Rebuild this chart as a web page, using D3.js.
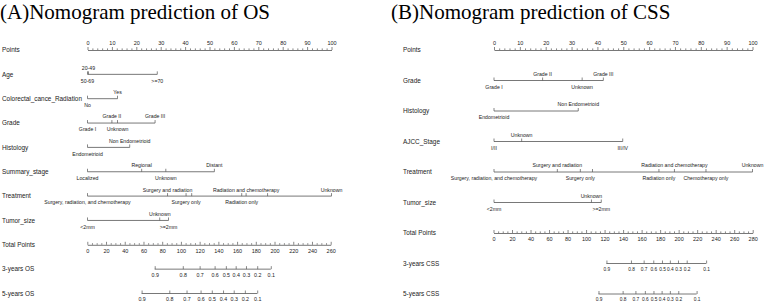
<!DOCTYPE html>
<html><head><meta charset="utf-8">
<script src="https://cdn.jsdelivr.net/npm/d3@7"></script>
<style>
html,body{margin:0;padding:0;background:#fff;}
svg{display:block;font-family:"Liberation Sans",Arial,sans-serif;}
</style></head>
<body><svg id="chart" width="764" height="303"></svg>
<script>
// ---------- Panel A : OS ----------
const titleA = "(A)Nomogram prediction of OS";
const pointsTicks = d3.range(0, 101, 10);
const totalTicksA = d3.range(0, 261, 20);
const totalTicksB = d3.range(0, 281, 20);
const survLabels = ["0.9","0.8","0.7","0.6","0.5","0.4","0.3","0.2","0.1"];

const ageLevels = ["50-69", "20-49", ">=70"];
const agePoints = [0, 0.4, 28.6];
const crcLevels = ["No", "Yes"];
const crcPoints = [0, 12.3];
const gradeLevelsA = ["Grade I", "Grade II", "Unknown", "Grade III"];
const gradePointsA = [0, 10, 12.3, 27.7];
const histLevelsA = ["Endometrioid", "Non Endometrioid"];
const histPointsA = [0, 17.3];
const stageLevels = ["Localized", "Regional", "Unknown", "Distant"];
const stagePoints = [0, 22.2, 32.1, 52];
const treatLevelsA = ["Surgery, radiation, and chemotherapy", "Surgery and radiation", "Surgery only", "", "Radiation only", "Radiation and chemotherapy", "", "Unknown"];
const treatPointsA = [0, 32.8, 40.4, 42.7, 63.2, 65, 73.8, 100];
const tumorLevelsA = ["<2mm", "Unknown", ">=2mm"];
const tumorPointsA = [0, 29.6, 33.2];
const os3Total = [72, 102, 120, 136, 148, 158.5, 169.5, 181.5, 196];
const os5Total = [58, 87.6, 106, 121, 133, 145, 156.4, 168.3, 181.5];

// ---------- Panel B : CSS ----------
const titleB = "(B)Nomogram prediction of CSS";
const gradeLevelsB = ["Grade I", "Grade II", "Unknown", "Grade III"];
const gradePointsB = [0, 18.8, 34.1, 42.3];
const histLevelsB = ["Endometrioid", "Non Endometrioid"];
const histPointsB = [0, 32.6];
const ajccLevels = ["I/II", "Unknown", "III/IV"];
const ajccPoints = [0, 10.7, 49.8];
const treatLevelsB = ["Surgery, radiation, and chemotherapy", "Surgery and radiation", "Surgery only", "", "Radiation only", "Radiation and chemotherapy", "Chemotherapy only", "Unknown"];
const treatPointsB = [0, 24.5, 33.4, 38.1, 63.8, 69.8, 82, 100];
const tumorLevelsB = ["<2mm", "Unknown", ">=2mm"];
const tumorPointsB = [0, 37.7, 41.5];
const css3Total = [122, 148.5, 162.2, 172.6, 182, 190.5, 199.3, 208.7, 229.7];
const css5Total = [113.4, 139.5, 153.3, 163.5, 172.8, 181.6, 190.5, 199.6, 219.4];

const svg = d3.select("#chart");
const LINE = "#555", TEXT = "#222";
const ROWFS = 6.4, TICKFS = 5.2;

function drawPanel(p) {
  const g = svg.append("g");
  g.append("text").attr("x", p.titleX).attr("y", 19)
    .attr("font-family", "'Liberation Serif','Times New Roman',serif")
    .attr("font-size", 21).attr("fill", "#000").text(p.title);

  const xP = d3.scaleLinear().domain([0, 100]).range(p.pointsRange);
  const xT = d3.scaleLinear().domain([0, p.totalMax]).range(p.totalRange);
  const yRow = i => p.y0 + i * p.dy;

  const rowLabel = (i, txt) => g.append("text").attr("x", p.labelX).attr("y", yRow(i) + 2.2)
    .attr("font-size", ROWFS).attr("fill", TEXT).text(txt);

  function styleAxis(sel, fs) {
    sel.selectAll("path").attr("stroke", LINE).attr("stroke-width", 0.8);
    sel.selectAll("line").attr("stroke", LINE).attr("stroke-width", 0.7);
    sel.selectAll("text").attr("font-size", fs).attr("fill", TEXT)
      .attr("font-family", "'Liberation Sans',Arial,sans-serif");
  }

  // Points axis
  rowLabel(0, "Points");
  const pa = g.append("g").attr("transform", `translate(0,${yRow(0)})`)
    .call(d3.axisTop(xP).tickValues(pointsTicks).tickSize(3).tickSizeOuter(0).tickPadding(2));
  styleAxis(pa, 5.5);
  const pm = g.append("g").attr("transform", `translate(0,${yRow(0)})`)
    .call(d3.axisTop(xP).tickValues(d3.range(0, 101, 2).filter(v => v % 10)).tickSize(1.6).tickFormat(""));
  pm.select("path").remove(); styleAxis(pm, 5);

  // variable rows
  p.rows.forEach((r, k) => {
    const i = k + 1;
    rowLabel(i, r.name);
    const y = yRow(i);
    const items = r.levels.map((l, j) => ({ l, v: r.points[j] })).sort((a, b) => a.v - b.v);
    const ext = d3.extent(items, d => d.v);
    g.append("line").attr("x1", xP(ext[0])).attr("x2", xP(ext[1])).attr("y1", y).attr("y2", y)
      .attr("stroke", LINE).attr("stroke-width", 0.8);
    items.forEach((d, j) => {
      g.append("line").attr("x1", xP(d.v)).attr("x2", xP(d.v)).attr("y1", y).attr("y2", y - 3)
        .attr("stroke", LINE).attr("stroke-width", 0.7);
      if (d.l) g.append("text").attr("x", xP(d.v)).attr("y", j % 2 === 0 ? y + 8.3 : y - 4.6)
        .attr("text-anchor", "middle").attr("font-size", TICKFS).attr("fill", TEXT).text(d.l);
    });
  });

  // Total points
  const it = p.rows.length + 1;
  rowLabel(it, "Total Points");
  const ta = g.append("g").attr("transform", `translate(0,${yRow(it)})`)
    .call(d3.axisBottom(xT).tickValues(p.totalTicks).tickSize(-3).tickSizeOuter(0).tickPadding(4.5));
  styleAxis(ta, 5.5);
  const tm = g.append("g").attr("transform", `translate(0,${yRow(it)})`)
    .call(d3.axisBottom(xT).tickValues(d3.range(0, p.totalMax + 1, 5).filter(v => v % 20)).tickSize(-1.6).tickFormat(""));
  tm.select("path").remove(); styleAxis(tm, 5);

  // survival axes
  p.surv.forEach((s, k) => {
    const i = it + 1 + k;
    rowLabel(i, s.name);
    const sa = g.append("g").attr("transform", `translate(0,${yRow(i)})`)
      .call(d3.axisBottom(xT).tickValues(s.total).tickSize(-3).tickSizeOuter(0).tickPadding(4)
        .tickFormat((d, j) => survLabels[j]));
    sa.select("path.domain").remove();
    const ext = d3.extent(s.total);
    sa.append("line").attr("x1", xT(ext[0])).attr("x2", xT(ext[1])).attr("y1", 0).attr("y2", 0);
    styleAxis(sa, p.survFs);
    sa.selectAll(":scope > line").attr("stroke-width", 0.8);
  });
}

drawPanel({
  title: titleA, titleX: 0, labelX: 2, survFs: 5.3,
  pointsRange: [87.5, 331.5], totalRange: [87.3, 330.7], totalMax: 260, totalTicks: totalTicksA,
  y0: 50, dy: 24.35,
  rows: [
    { name: "Age", levels: ageLevels, points: agePoints },
    { name: "Colorectal_cance_Radiation", levels: crcLevels, points: crcPoints },
    { name: "Grade", levels: gradeLevelsA, points: gradePointsA },
    { name: "Histology", levels: histLevelsA, points: histPointsA },
    { name: "Summary_stage", levels: stageLevels, points: stagePoints },
    { name: "Treatment", levels: treatLevelsA, points: treatPointsA },
    { name: "Tumor_size", levels: tumorLevelsA, points: tumorPointsA }
  ],
  surv: [{ name: "3-years OS", total: os3Total }, { name: "5-years OS", total: os5Total }]
});

drawPanel({
  title: titleB, titleX: 391, labelX: 403, survFs: 4.8,
  pointsRange: [494, 752.5], totalRange: [493.5, 752.7], totalMax: 280, totalTicks: totalTicksB,
  y0: 50, dy: 30.5,
  rows: [
    { name: "Grade", levels: gradeLevelsB, points: gradePointsB },
    { name: "Histology", levels: histLevelsB, points: histPointsB },
    { name: "AJCC_Stage", levels: ajccLevels, points: ajccPoints },
    { name: "Treatment", levels: treatLevelsB, points: treatPointsB },
    { name: "Tumor_size", levels: tumorLevelsB, points: tumorPointsB }
  ],
  surv: [{ name: "3-years CSS", total: css3Total }, { name: "5-years CSS", total: css5Total }]
});
</script></body></html>
